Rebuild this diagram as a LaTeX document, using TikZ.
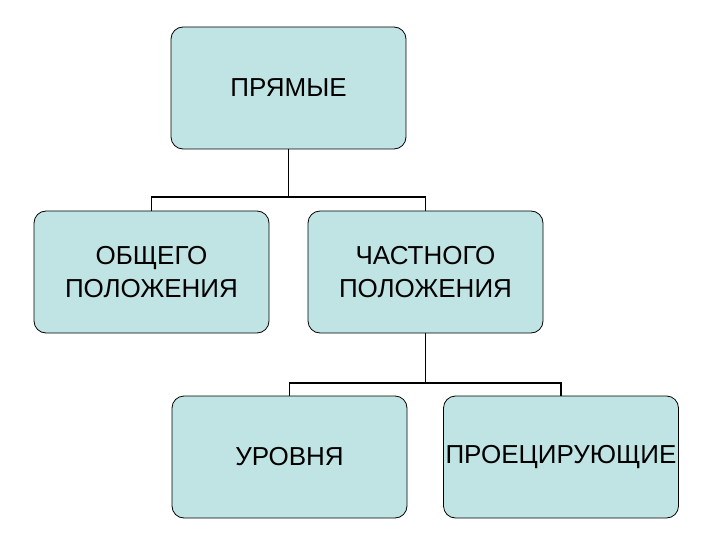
\documentclass[tikz,border=0pt]{standalone}
\usepackage{fontspec}
\setmainfont{Liberation Sans}
\begin{document}
\begin{tikzpicture}[x=1pt,y=-1pt,
  box/.style={draw=black,line width=0.8pt,fill=boxfill,rounded corners=12pt,minimum width=235pt,minimum height=122pt,align=center,font=\fontsize{26}{33}\selectfont,inner sep=0pt},
  conn/.style={line width=1.5pt}]
\definecolor{boxfill}{RGB}{192,228,228}
\useasboundingbox (0,0) rectangle (720,540);
\node[box] (top) at (288.5,88) {ПРЯМЫЕ};
\node[box] (gen) at (151.5,272) {ОБЩЕГО\\ПОЛОЖЕНИЯ};
\node[box] (part) at (425.5,272) {ЧАСТНОГО\\ПОЛОЖЕНИЯ};
\node[box] (lev) at (289.5,457) {УРОВНЯ};
\node[box] (proj) at (561,457) {ПРОЕЦИРУЮЩИЕ};
\coordinate (j1) at (288.5,197);
\coordinate (j2) at (425.5,383);
\draw[conn] (top.south) -- (j1);
\draw[conn] (gen.north) |- (j1) -| (part.north);
\draw[conn] (part.south) -- (j2);
\draw[conn] (lev.north) |- (j2) -| (proj.north);
\end{tikzpicture}
\end{document}
